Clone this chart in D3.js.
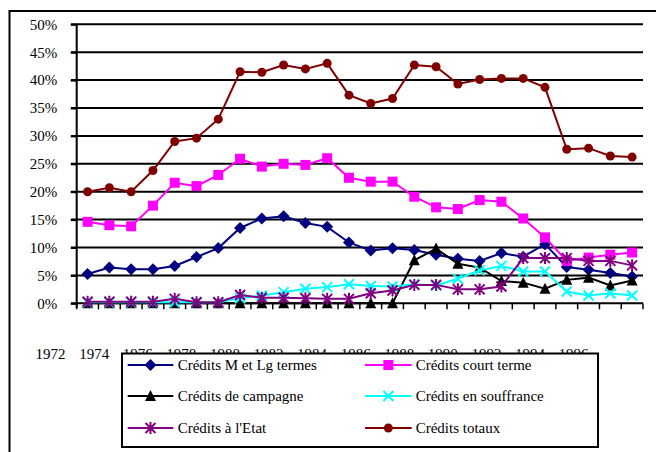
<!DOCTYPE html>
<html><head><meta charset="utf-8">
<script src="https://cdn.jsdelivr.net/npm/d3@7"></script>
<style>body{margin:0;background:#fff}svg{display:block}svg text{font-family:"Liberation Serif",serif !important}</style>
</head><body><svg id="c" width="656" height="452"></svg>
<script>
const years = d3.range(1972, 1998);
const yTicks = [0,0.05,0.10,0.15,0.20,0.25,0.30,0.35,0.40,0.45,0.50];
const xLabelYears = [1972,1974,1976,1978,1980,1982,1984,1986,1988,1990,1992,1994,1996];

const mltValues   = [5.25,6.4,6.1,6.1,6.7,8.3,9.9,13.5,15.2,15.6,14.4,13.7,10.9,9.45,9.85,9.55,8.7,8.0,7.6,9.0,8.35,10.6,6.5,6.0,5.45,4.8];
const courtValues = [14.6,14.0,13.8,17.5,21.6,21.0,23.0,25.9,24.5,25.0,24.8,26.0,22.5,21.8,21.8,19.1,17.2,16.9,18.5,18.2,15.2,11.8,7.6,8.2,8.7,9.1];
const campValues  = [0,0,0,0,0,0,0,0,0,0,0,0,0,0,0,7.7,9.8,7.1,6.4,4.0,3.7,2.6,4.2,4.6,3.2,4.1];
const souffValues = [0.2,0.2,0.2,0.2,0.2,0.2,0.2,0.9,1.4,2.0,2.6,2.9,3.4,3.1,3.0,3.4,3.2,4.4,5.9,6.7,5.7,5.7,2.1,1.4,1.8,1.4];
const etatValues  = [0.3,0.3,0.3,0.3,0.8,0.2,0.2,1.5,1.0,1.0,0.9,0.8,0.8,1.8,2.3,3.3,3.3,2.5,2.5,3.0,8.1,8.1,8.1,7.6,7.6,6.8];
const totValues   = [20.0,20.7,20.0,23.8,29.0,29.6,33.0,41.5,41.4,42.7,42.0,43.0,37.3,35.8,36.7,42.7,42.4,39.3,40.1,40.3,40.3,38.7,27.6,27.8,26.4,26.2];

const series = [
  {name:"Crédits M et Lg termes", values:mltValues, color:"#000080", marker:"diamond"},
  {name:"Crédits court terme", values:courtValues, color:"#FF00FF", marker:"square"},
  {name:"Crédits de campagne", values:campValues, color:"#000000", marker:"triangle"},
  {name:"Crédits en souffrance", values:souffValues, color:"#00FFFF", marker:"x"},
  {name:"Crédits à l'Etat", values:etatValues, color:"#800080", marker:"star"},
  {name:"Crédits totaux", values:totValues, color:"#800000", marker:"circle"}
];

const FONT = "Liberation Serif";
const svg = d3.select("#c");
const x = d3.scaleBand().domain(years).range([76.7, 643]).padding(0);
const y = d3.scaleLinear().domain([0, 0.5]).range([303.3, 24.3]);
const bw = x.bandwidth();
const cx = yr => x(yr) + bw/2;

// outer frame
svg.append("rect").attr("x",9.5).attr("y",11).attr("width",700).attr("height",500)
  .attr("fill","none").attr("stroke","#000").attr("stroke-width",2);

// gridlines
svg.append("g").selectAll("line").data(yTicks.filter(d=>d>0)).join("line")
  .attr("x1",71).attr("x2",643).attr("y1",d=>y(d)).attr("y2",d=>y(d))
  .attr("stroke","#000").attr("stroke-width",2);

// y axis
const yAxis = d3.axisLeft(y).tickValues(yTicks).tickFormat(d3.format(".0%")).tickSize(6).tickPadding(14);
const gy = svg.append("g").attr("transform","translate(76.7,0)").call(yAxis);
gy.attr("font-family",FONT).attr("font-size",15);
gy.select(".domain").attr("stroke","#000").attr("stroke-width",2).attr("d","M0,24.3V308");
gy.selectAll(".tick line").attr("stroke","#000").attr("stroke-width",2);
gy.selectAll(".tick text").attr("fill","#000").attr("x",-19.5).style("font-family",FONT);

// x axis line with category ticks
const gx = svg.append("g");
gx.append("line").attr("x1",71).attr("x2",643).attr("y1",y(0)).attr("y2",y(0)).attr("stroke","#000").attr("stroke-width",2);
gx.selectAll("line.t").data(years.concat([1998])).join("line").attr("class","t")
  .attr("x1",d=>d===1998?643:x(d)).attr("x2",d=>d===1998?643:x(d))
  .attr("y1",y(0)).attr("y2",y(0)+6).attr("stroke","#000").attr("stroke-width",1.5);

// x labels (offset as in reference)
svg.append("g").selectAll("text").data(xLabelYears).join("text")
  .attr("x",d=>cx(d)-37+(d-1972)*0.012).attr("y",359)
  .attr("text-anchor","middle").attr("font-size",15).style("font-family",FONT).text(d=>d);

// marker generator
function drawMarker(g, type, color, px, py){
  if(type==="diamond"){
    g.append("path").attr("d",`M${px},${py-6}L${px+6},${py}L${px},${py+6}L${px-6},${py}Z`).attr("fill",color);
  } else if(type==="square"){
    g.append("rect").attr("x",px-5).attr("y",py-5).attr("width",10).attr("height",10).attr("fill",color);
  } else if(type==="triangle"){
    g.append("path").attr("d",`M${px},${py-6}L${px+5.5},${py+5}L${px-5.5},${py+5}Z`).attr("fill",color);
  } else if(type==="x"){
    g.append("path").attr("d",`M${px-5},${py-5}L${px+5},${py+5}M${px+5},${py-5}L${px-5},${py+5}`).attr("stroke",color).attr("stroke-width",2);
  } else if(type==="star"){
    g.append("path").attr("d",`M${px-5},${py-5}L${px+5},${py+5}M${px+5},${py-5}L${px-5},${py+5}M${px},${py-6}L${px},${py+6}`).attr("stroke",color).attr("stroke-width",2);
  } else if(type==="circle"){
    g.append("circle").attr("cx",px).attr("cy",py).attr("r",4.5).attr("fill",color);
  }
}

const line = d3.line().x((d,i)=>cx(years[i])).y(d=>y(d/100));
series.forEach(s=>{
  const g = svg.append("g");
  g.append("path").datum(s.values).attr("d",line).attr("fill","none").attr("stroke",s.color).attr("stroke-width",2);
  s.values.forEach((v,i)=>drawMarker(g, s.marker, s.color, cx(years[i]), y(v/100)));
});

// legend
const lg = svg.append("g");
lg.append("rect").attr("x",122).attr("y",353.5).attr("width",476).attr("height",93.5)
  .attr("fill","#fff").attr("stroke","#000").attr("stroke-width",2);
const cols = [{x1:127.7,x2:173.3,tx:177.7},{x1:365,x2:411.7,tx:415.7}];
const rows = [365,396,428];
series.forEach((s,i)=>{
  const c = cols[i%2], r = rows[Math.floor(i/2)];
  const g = lg.append("g");
  g.append("line").attr("x1",c.x1).attr("x2",c.x2).attr("y1",r).attr("y2",r).attr("stroke",s.color).attr("stroke-width",2);
  drawMarker(g, s.marker, s.color, (c.x1+c.x2)/2, r);
  g.append("text").attr("x",c.tx).attr("y",r).attr("dy","0.33em").attr("font-size",15).style("font-family",FONT).text(s.name);
});
</script></body></html>
